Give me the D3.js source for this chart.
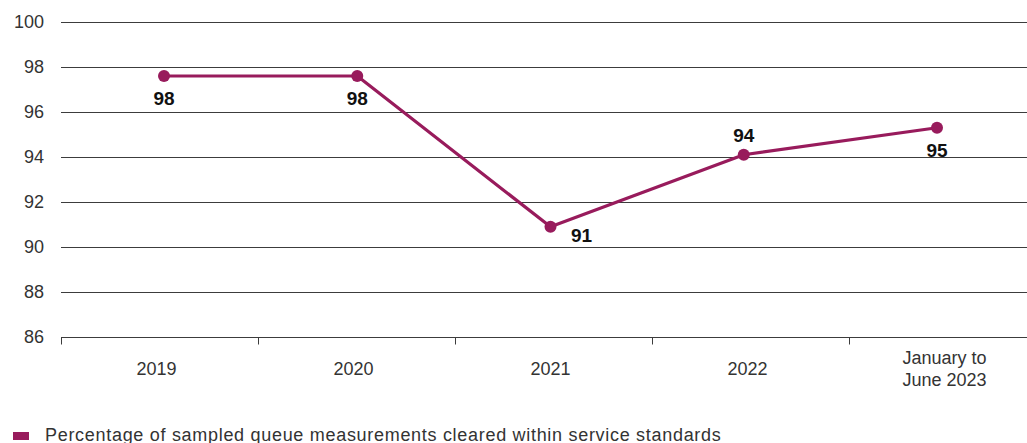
<!DOCTYPE html>
<html>
<head>
<meta charset="utf-8">
<script src="https://cdn.jsdelivr.net/npm/d3@7"></script>
<style>
  html, body { margin: 0; padding: 0; background: #fff; }
  svg { display: block; font-family: "Liberation Sans", Arial, sans-serif; }
</style>
</head>
<body>
<svg id="chart" width="1027" height="443"></svg>
<script>
// Share of sampled queue measurements cleared within service standards (%)
const periods = ["2019", "2020", "2021", "2022", "January to\nJune 2023"];
const clearedPct = [97.6, 97.6, 90.9, 94.1, 95.3];
const labelPlacement = ["below", "below", "right", "above", "below"];
const yTicks = [86, 88, 90, 92, 94, 96, 98, 100];
const seriesName = "Percentage of sampled queue measurements cleared within service standards";

const lineColor = "#981b5c";
const axisColor = "#3c3c3c";
const svg = d3.select("#chart");

// category bands for the axis, point positions for the series
const x = d3.scaleBand().domain(periods).range([61, 1046]);
const xp = d3.scalePoint().domain(periods).range([164, 937]);
const y = d3.scaleLinear().domain([86, 100]).range([337, 22]);

// horizontal gridlines and y tick labels
const yAxis = svg.append("g");
yAxis.selectAll("line").data(yTicks.filter(t => t !== 86)).join("line")
  .attr("x1", 61).attr("x2", 1027)
  .attr("y1", d => Math.round(y(d)) + 0.5).attr("y2", d => Math.round(y(d)) + 0.5)
  .attr("stroke", axisColor).attr("stroke-width", 1);
yAxis.selectAll("text").data(yTicks).join("text")
  .attr("x", 44).attr("y", d => y(d)).attr("dy", "0.35em")
  .attr("text-anchor", "end")
  .attr("font-size", 18).attr("fill", "#333")
  .text(d => d);

// bottom axis with band-boundary ticks
const xAxis = svg.append("g");
const baseY = Math.round(y(86)) + 0.5;
xAxis.append("line")
  .attr("x1", 61).attr("x2", 1027)
  .attr("y1", baseY).attr("y2", baseY)
  .attr("stroke", axisColor).attr("stroke-width", 1);
xAxis.selectAll("line.tick").data(periods).join("line")
  .attr("class", "tick")
  .attr("x1", d => Math.round(x(d)) + 0.5).attr("x2", d => Math.round(x(d)) + 0.5)
  .attr("y1", baseY).attr("y2", baseY + 7)
  .attr("stroke", axisColor).attr("stroke-width", 1);
xAxis.selectAll("text").data(periods).join("text")
  .attr("text-anchor", "middle")
  .attr("font-size", 18).attr("fill", "#333")
  .each(function (d) {
    const lines = d.split("\n");
    const cxText = x(d) + x.bandwidth() / 2 - 3;
    const top = lines.length > 1 ? 364 : 375;
    d3.select(this).selectAll("tspan").data(lines).join("tspan")
      .attr("x", cxText)
      .attr("y", (l, i) => top + i * 22)
      .text(l => l);
  });

// series line and markers
const pts = periods.map((p, i) => ({ p, v: clearedPct[i], pos: labelPlacement[i] }));
const cx = d => xp(d.p);

svg.append("path")
  .datum(pts)
  .attr("fill", "none")
  .attr("stroke", lineColor)
  .attr("stroke-width", 3.2)
  .attr("stroke-linejoin", "round")
  .attr("d", d3.line().x(cx).y(d => y(d.v)));

svg.selectAll("circle.pt").data(pts).join("circle")
  .attr("class", "pt")
  .attr("cx", cx).attr("cy", d => y(d.v))
  .attr("r", 6).attr("fill", lineColor);

// value labels
const fmt = d3.format(".0f");
svg.selectAll("text.val").data(pts).join("text")
  .attr("class", "val")
  .attr("x", d => d.pos === "right" ? cx(d) + 31 : cx(d))
  .attr("y", d => d.pos === "above" ? y(d.v) - 13 : d.pos === "right" ? y(d.v) + 15 : y(d.v) + 29)
  .attr("text-anchor", "middle")
  .attr("font-size", 19).attr("font-weight", "bold").attr("fill", "#111")
  .text(d => fmt(d.v));

// legend
const legend = svg.append("g");
legend.append("rect")
  .attr("x", 13).attr("y", 432).attr("width", 16).attr("height", 8)
  .attr("fill", lineColor);
legend.append("text")
  .attr("x", 45).attr("y", 441)
  .attr("font-size", 18).attr("letter-spacing", 0.7).attr("fill", "#333")
  .text(seriesName);
</script>
</body>
</html>
